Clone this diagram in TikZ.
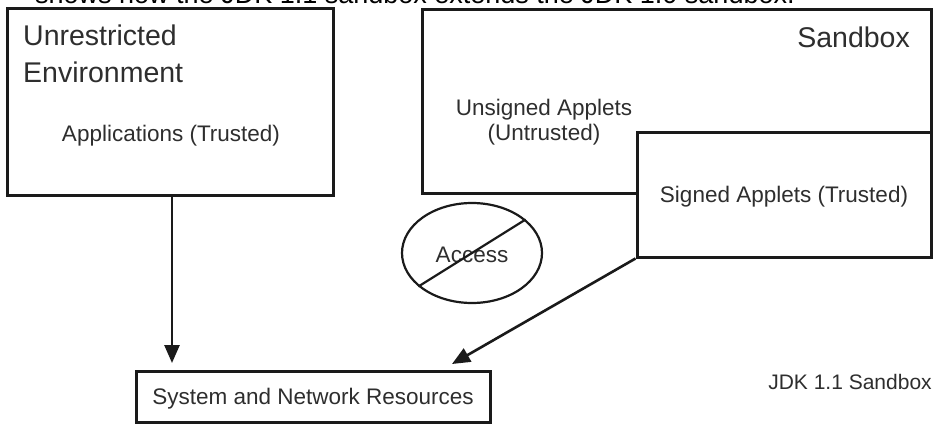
\documentclass[tikz,border=0pt]{standalone}
\usepackage{fontspec}
\setmainfont{Liberation Sans}
\usetikzlibrary{arrows.meta,shapes.geometric}
\definecolor{txt}{HTML}{2E2E2E}
\definecolor{ln}{HTML}{1A1A1A}
\begin{document}
\begin{tikzpicture}[x=1pt,y=-1pt,
  box/.style={draw=ln,line width=3pt,rectangle,inner sep=0pt},
  body/.style={text=txt,inner sep=0pt,font=\fontsize{22.5}{25}\selectfont},
  head/.style={text=txt,inner sep=0pt,font=\fontsize{28.5}{37}\selectfont},
  arr/.style={draw=ln,line width=2.6pt,-{Triangle[length=18pt,width=15pt]}}]
\useasboundingbox (0,0) rectangle (939,425);
\clip (0,0) rectangle (939,425);
\fill[white] (0,0) rectangle (939,425);
% caption cut off at the top
\node[anchor=base west,inner sep=0pt,font=\fontsize{27}{30}\selectfont] (cap) at (35,3.5) {shows how the JDK 1.1 sandbox extends the JDK 1.0 sandbox.};
% boxes
\node[box,minimum width=326pt,minimum height=186pt] (unres) at (170,102) {};
\node[box,minimum width=509pt,minimum height=183pt] (sand) at (676.5,101.5) {};
\node[box,fill=white,minimum width=294pt,minimum height=124pt] (signed) at (784,195) {};
\node[box,minimum width=354pt,minimum height=51pt] (sys) at (313,396.5) {};
\node[draw=ln,line width=2.2pt,ellipse,minimum width=140pt,minimum height=100pt,inner sep=0pt] (acc) at (472,253) {};
% texts
\node[head,align=left,anchor=north west] (unrestxt) at (23,24.6) {Unrestricted\\Environment};
\node[body] (apptxt) at (171,136) {Applications (Trusted)};
\node[head,anchor=base east] (sandtxt) at (910,48) {Sandbox};
\node[body,align=center] (unsigtxt) at (544,122) {Unsigned Applets\\(Untrusted)};
\node[body] (sigtxt) at (784,197) {Signed Applets (Trusted)};
\node[body] (systxt) at (313,399) {System and Network Resources};
\node[body] (acctxt) at (472,255) {Access};
\node[body,font=\fontsize{21}{24}\selectfont] (jdk) at (850,382) {JDK 1.1 Sandbox};
% slash through the Access ellipse
\draw[ln,line width=2.2pt] (acc.212) -- (acc.32);
% connectors
\coordinate (t1) at (172,363);
\coordinate (s1) at (172,102);
\coordinate (t2) at (452,364);
\draw[arr] (s1 |- unres.south) -- (t1);
\draw[arr] (signed.south west) -- (t2);
\end{tikzpicture}
\end{document}
